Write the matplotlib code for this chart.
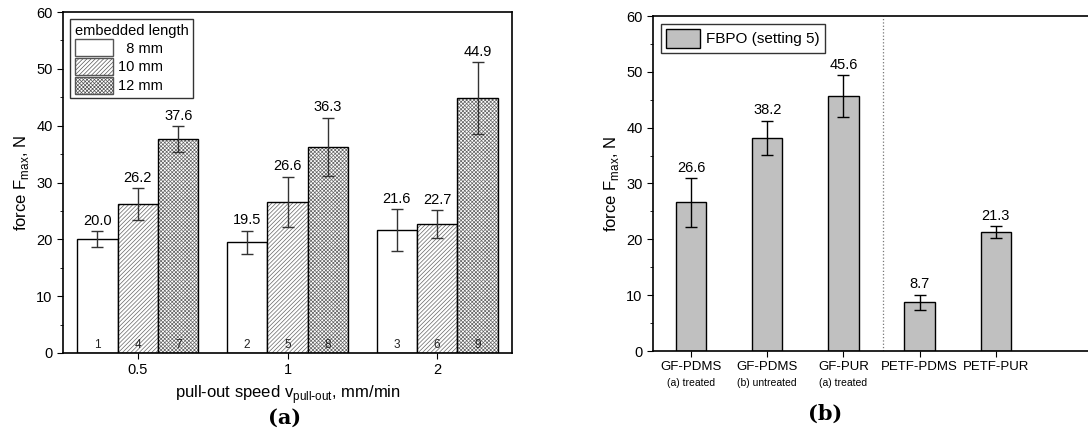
import numpy as np
import matplotlib.pyplot as plt

plt.rcParams['font.family'] = ['Liberation Sans', 'DejaVu Sans']
plt.rcParams['hatch.linewidth'] = 0.5

# panel (a) data
speeds = ['0.5', '1', '2']
lengths = ['  8 mm', '10 mm', '12 mm']
force_8 = [20.0, 19.5, 21.6]
force_10 = [26.2, 26.6, 22.7]
force_12 = [37.6, 36.3, 44.9]
err_8 = [1.4, 2.0, 3.7]
err_10 = [2.8, 4.4, 2.4]
err_12 = [2.3, 5.1, 6.3]
bar_ids = [[1, 2, 3], [4, 5, 6], [7, 8, 9]]

# panel (b) data
samples = ['GF-PDMS', 'GF-PDMS', 'GF-PUR', 'PETF-PDMS', 'PETF-PUR']
sub_labels = ['(a) treated', '(b) untreated', '(a) treated', '', '']
force_b = [26.6, 38.2, 45.6, 8.7, 21.3]
err_b = [4.4, 3.05, 3.75, 1.4, 1.0]

fig = plt.figure(figsize=(10.88, 4.36), dpi=100)
W, H = 1088, 436

# ---- panel (a)
ax1 = fig.add_axes([63 / W, 1 - 353 / H, (512 - 63) / W, (353 - 12) / H])
x = np.arange(len(speeds))
bw = 0.27
series = [(force_8, err_8, ''), (force_10, err_10, '////////'), (force_12, err_12, 'xxxxxxxxx')]
handles = []
for i, (vals, errs, hatch) in enumerate(series):
    pos = x + (i - 1) * bw
    ax1.bar(pos, vals, bw, color='white', edgecolor='#666666', hatch=hatch, linewidth=0)
    ax1.bar(pos, vals, bw, color='none', edgecolor='black', linewidth=1.0)
    ax1.errorbar(pos, vals, yerr=errs, fmt='none', ecolor='#333333', elinewidth=1.0,
                 capsize=4, capthick=1.0)
    for p, v, e, n in zip(pos, vals, errs, bar_ids[i]):
        ax1.text(p, v + e + 0.6, f'{v:.1f}', ha='center', va='bottom', fontsize=10.5)
        ax1.text(p, 0.3, str(n), ha='center', va='bottom', fontsize=8.5, color='#222222')
    handles.append(ax1.bar([0], [0], 0, color='white', edgecolor='#555555', hatch=hatch, linewidth=1.0))

ax1.set_xlim(-0.5, 2.5)
ax1.set_ylim(0, 60)
ax1.set_xticks(x)
ax1.set_xticklabels(speeds)
ax1.set_yticks(np.arange(0, 61, 10))
ax1.set_yticks(np.arange(5, 60, 10), minor=True)
ax1.tick_params(axis='both', which='major', labelsize=10.5, direction='out', length=4)
ax1.tick_params(axis='y', which='minor', direction='out', length=2)
for s in ax1.spines.values():
    s.set_linewidth(1.2)
ax1.set_ylabel(r'force F$_{\mathregular{max}}$, N', fontsize=12, labelpad=4)
ax1.set_xlabel(r'pull-out speed v$_{\mathregular{pull\text{-}out}}$, mm/min', fontsize=12, labelpad=4)
leg = ax1.legend(handles, lengths, title='embedded length', loc='upper left',
                 fontsize=10.5, title_fontsize=10.5, frameon=True, fancybox=False,
                 edgecolor='black', handlelength=2.6, handleheight=1.45, labelspacing=0.1,
                 borderpad=0.3, handletextpad=0.4, borderaxespad=0.5)
leg._legend_box.align = 'left'
leg.get_frame().set_linewidth(1.0)

# ---- panel (b)
ax2 = fig.add_axes([653 / W, 1 - 351 / H, (1110 - 653) / W, (351 - 16) / H])
xb = np.arange(len(samples))
ax2.bar(xb, force_b, 0.4, color='#c0c0c0', edgecolor='black', linewidth=1.0,
        label='FBPO (setting 5)')
ax2.errorbar(xb, force_b, yerr=err_b, fmt='none', ecolor='black', elinewidth=1.0,
             capsize=4, capthick=1.0)
for p, v, e in zip(xb, force_b, err_b):
    ax2.text(p, v + e + 0.6, f'{v:.1f}', ha='center', va='bottom', fontsize=10.5)
ax2.axvline(2.52, color='#777777', linestyle=':', linewidth=0.9)
ax2.set_xlim(-0.5, 5.5)
ax2.set_ylim(0, 60)
ax2.set_xticks(xb)
ax2.set_xticklabels(samples, fontsize=9.5)
for p, s in zip(xb, sub_labels):
    ax2.text(p, -0.08, s, transform=ax2.get_xaxis_transform(), ha='center', va='top',
             fontsize=7.5)
ax2.set_yticks(np.arange(0, 61, 10))
ax2.set_yticks(np.arange(5, 60, 10), minor=True)
ax2.tick_params(axis='y', which='major', labelsize=10.5, direction='out', length=4)
ax2.tick_params(axis='x', which='major', direction='out', length=4)
ax2.tick_params(axis='y', which='minor', direction='out', length=2)
for s in ax2.spines.values():
    s.set_linewidth(1.2)
ax2.set_ylabel(r'force F$_{\mathregular{max}}$, N', fontsize=12, labelpad=4)
leg2 = ax2.legend(loc='upper left', fontsize=11, frameon=True, fancybox=False,
                  edgecolor='black', handlelength=2.2, handleheight=1.5,
                  borderpad=0.35, handletextpad=0.4, borderaxespad=0.5)
leg2.get_frame().set_linewidth(1.0)

fig.text(285 / W, 1 - 418 / H, '(a)', ha='center', va='center', fontsize=15,
         fontweight='bold', family='DejaVu Serif')
fig.text(825 / W, 1 - 414 / H, '(b)', ha='center', va='center', fontsize=15,
         fontweight='bold', family='DejaVu Serif')

fig.savefig('out.png', dpi=100)
